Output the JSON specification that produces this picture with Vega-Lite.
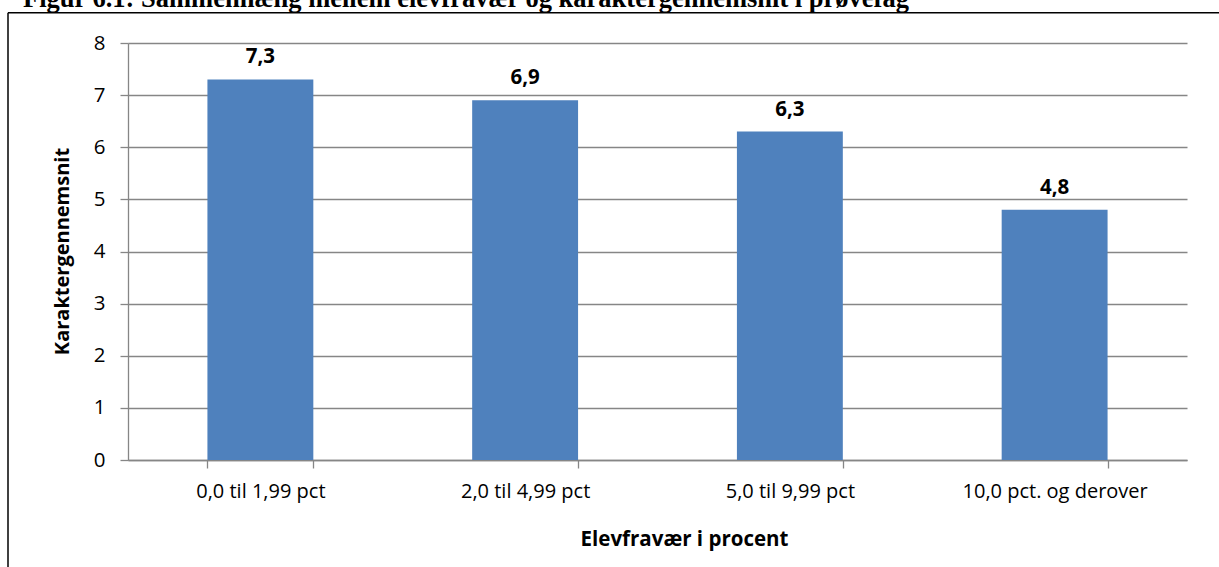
{
  "$schema": "https://vega.github.io/schema/vega-lite/v6.json",
  "width": 1059,
  "height": 417,
  "autosize": {"type": "none"},
  "padding": {"left": 128, "top": 43, "right": 32, "bottom": 107},
  "background": "white",
  "config": {
    "locale": {"number": {"decimal": ",", "thousands": ".", "grouping": [3], "currency": ["", " kr."]}},
    "view": {"stroke": null},
    "font": "Open Sans",
    "axis": {
      "labelFont": "Open Sans",
      "labelColor": "#000000",
      "titleFont": "Open Sans",
      "titleColor": "#000000",
      "domainColor": "#868686",
      "tickColor": "#868686",
      "gridColor": "#868686",
      "domainWidth": 1.3,
      "tickWidth": 1.3,
      "gridWidth": 1.3,
      "labelLimit": 400
    }
  },
  "title": {
    "text": "Figur 6.1: Sammenhæng mellem elevfravær og karaktergennemsnit i prøvefag",
    "font": "Liberation Serif",
    "fontSize": 26.5,
    "fontWeight": "bold",
    "color": "#000000",
    "anchor": "start",
    "frame": "group",
    "orient": "top",
    "baseline": "alphabetic",
    "offset": 0,
    "dx": -105,
    "dy": 21
  },
  "datasets": {
    "bars": [
      {"fravaer": "0,0 til 1,99 pct", "karakter": 7.3},
      {"fravaer": "2,0 til 4,99 pct", "karakter": 6.9},
      {"fravaer": "5,0 til 9,99 pct", "karakter": 6.3},
      {"fravaer": "10,0 pct. og derover", "karakter": 4.8}
    ],
    "frame": [
      {"top": 8.58, "bottom": -2.2}
    ]
  },
  "layer": [
    {
      "data": {"name": "bars"},
      "mark": {"type": "bar", "color": "#4F81BD"},
      "encoding": {
        "x": {
          "field": "fravaer",
          "type": "nominal",
          "sort": null,
          "scale": {"paddingInner": 0.6, "paddingOuter": 0.3},
          "axis": {
            "title": "Elevfravær i procent",
            "labelAngle": 0,
            "labelFontSize": 20,
            "labelPadding": 13,
            "labelLimit": 400,
            "tickSize": 8,
            "tickBand": "extent",
            "titleFontSize": 20.5,
            "titleFontWeight": "bold",
            "titleBaseline": "alphabetic",
            "titleX": 556,
            "titleY": 85,
            "titleAlign": "center"
          }
        },
        "y": {
          "field": "karakter",
          "type": "quantitative",
          "scale": {"domain": [0, 8], "nice": false},
          "axis": {
            "title": "Karaktergennemsnit",
            "values": [0, 1, 2, 3, 4, 5, 6, 7, 8],
            "grid": true,
            "labelFontSize": 20.5,
            "labelPadding": 15,
            "tickSize": 8,
            "titleFontSize": 20,
            "titleFontWeight": "bold",
            "titleBaseline": "middle",
            "titleX": -66,
            "titleY": 208
          }
        }
      }
    },
    {
      "data": {"name": "bars"},
      "mark": {"type": "text", "baseline": "alphabetic", "dy": -16, "fontSize": 20.5, "fontWeight": "bold", "font": "Open Sans", "color": "#000000"},
      "encoding": {
        "x": {"field": "fravaer", "type": "nominal", "sort": null},
        "y": {"field": "karakter", "type": "quantitative"},
        "text": {"field": "karakter", "type": "quantitative", "format": ".1f"}
      }
    },
    {
      "data": {"name": "frame"},
      "mark": {"type": "rule", "color": "#000000", "strokeWidth": 1.5},
      "encoding": {
        "x": {"value": -120},
        "x2": {"value": 1091},
        "y": {"field": "top", "type": "quantitative"}
      }
    },
    {
      "data": {"name": "frame"},
      "mark": {"type": "rule", "color": "#000000", "strokeWidth": 1.5},
      "encoding": {
        "x": {"value": -120},
        "y": {"field": "top", "type": "quantitative"},
        "y2": {"field": "bottom"}
      }
    }
  ]
}
